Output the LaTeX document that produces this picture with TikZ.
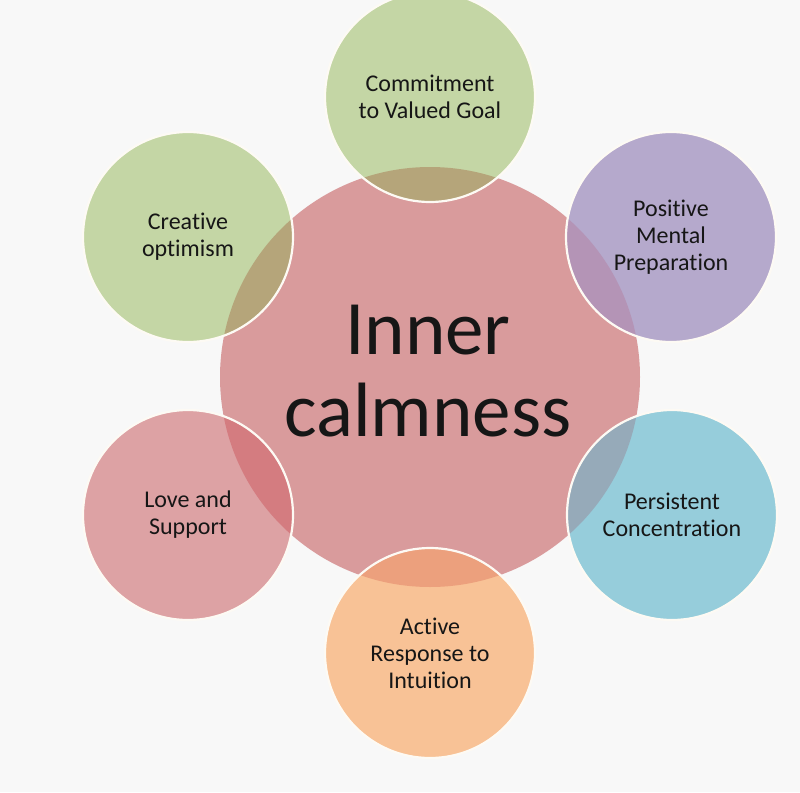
\documentclass[tikz,border=0pt]{standalone}
\usepackage{fontspec}
\setmainfont{Carlito}[Ligatures={NoCommon}]
\definecolor{bgc}{HTML}{F8F8F8}
\definecolor{pinkc}{HTML}{D99B9C}
\definecolor{greenc}{HTML}{C4D6A5}
\definecolor{greenov}{HTML}{B5A57A}
\definecolor{purplec}{HTML}{B5A9CC}
\definecolor{purpleov}{HTML}{B494B6}
\definecolor{bluec}{HTML}{96CDDB}
\definecolor{blueov}{HTML}{96AAB9}
\definecolor{orangec}{HTML}{F8C296}
\definecolor{orangeov}{HTML}{ECA07D}
\definecolor{lovec}{HTML}{DDA2A4}
\definecolor{loveov}{HTML}{D47C80}
\definecolor{rimc}{HTML}{FDFAF4}
\definecolor{txtc}{HTML}{161616}
\tikzset{
  outer/.style={circle, minimum size=210pt, inner sep=0pt, align=center,
    text=txtc, font=\fontsize{24}{27}\selectfont},
  rim/.style={draw=rimc, line width=2.2pt},
  centre/.style={circle, minimum size=420pt, inner sep=0pt, fill=pinkc}
}
\begin{document}
\begin{tikzpicture}[x=1pt,y=-1pt]
\fill[bgc] (0,0) rectangle (800,792);
\useasboundingbox (0,0) rectangle (800,792);
\node[centre] (core) at (430,377) {};
% outer circles
\node[outer, fill=greenc] (goal) at (430,97) {Commitment\\to Valued Goal};
\node[outer, fill=greenc] (opt) at (188,237) {Creative\\optimism};
\node[outer, fill=purplec] (prep) at (671,237) {Positive\\Mental\\Preparation};
\node[outer, fill=lovec] (love) at (188,515) {Love and\\Support};
\node[outer, fill=bluec] (conc) at (672,515) {Persistent\\Concentration};
\node[outer, fill=orangec] (intu) at (430,653) {Active\\Response to\\Intuition};
% overlaps
\begin{scope}
  \clip (core.center) circle[radius=210pt];
  \fill[greenov] (goal.center) circle[radius=105pt];
  \fill[greenov] (opt.center) circle[radius=105pt];
  \fill[purpleov] (prep.center) circle[radius=105pt];
  \fill[loveov] (love.center) circle[radius=105pt];
  \fill[blueov] (conc.center) circle[radius=105pt];
  \fill[orangeov] (intu.center) circle[radius=105pt];
\end{scope}
% rims
\foreach \n in {goal,opt,prep,love,conc,intu}
  \draw[rim] (\n.center) circle[radius=105pt];
% centre text
\node[align=center, text=txtc, font=\fontsize{77}{82}\selectfont] (title) at (428,371) {Inner\\calmness};
\end{tikzpicture}
\end{document}
